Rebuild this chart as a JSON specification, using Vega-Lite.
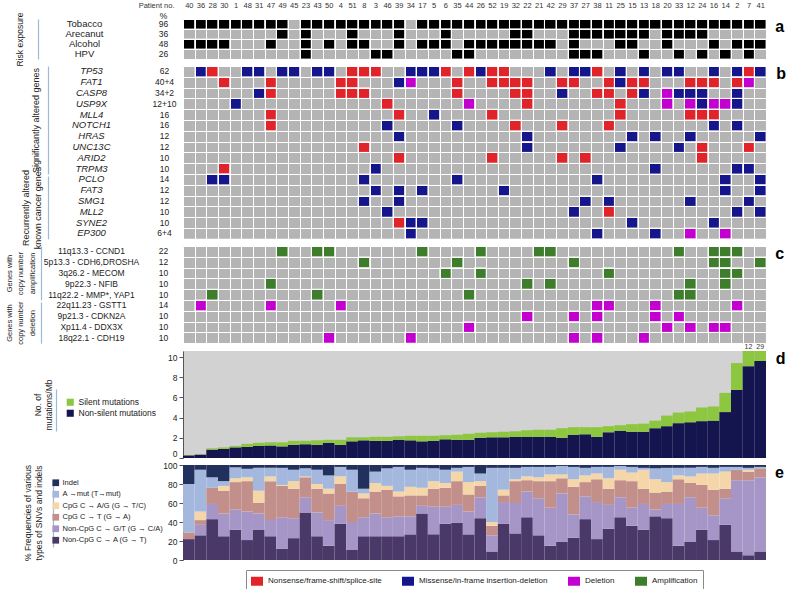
{
 "$schema": "https://vega.github.io/schema/vega-lite/v6.json",
 "background": "white",
 "padding": {"left": 5, "top": 1, "right": 0, "bottom": 0},
 "config": {"font": "Liberation Sans", "view": {"stroke": null}},
 "datasets": {
  "rows": [
   {"panel":"risk","label":"Tobacco","pct":"96"},
   {"panel":"risk","label":"Arecanut","pct":"36"},
   {"panel":"risk","label":"Alcohol","pct":"48"},
   {"panel":"risk","label":"HPV","pct":"26"},
   {"panel":"sig","label":"TP53","pct":"62"},
   {"panel":"sig","label":"FAT1","pct":"40+4"},
   {"panel":"sig","label":"CASP8","pct":"34+2"},
   {"panel":"sig","label":"USP9X","pct":"12+10"},
   {"panel":"sig","label":"MLL4","pct":"16"},
   {"panel":"sig","label":"NOTCH1","pct":"16"},
   {"panel":"sig","label":"HRAS","pct":"12"},
   {"panel":"sig","label":"UNC13C","pct":"12"},
   {"panel":"sig","label":"ARID2","pct":"10"},
   {"panel":"sig","label":"TRPM3","pct":"10"},
   {"panel":"rec","label":"PCLO","pct":"14"},
   {"panel":"rec","label":"FAT3","pct":"12"},
   {"panel":"rec","label":"SMG1","pct":"12"},
   {"panel":"rec","label":"MLL2","pct":"10"},
   {"panel":"rec","label":"SYNE2","pct":"10"},
   {"panel":"rec","label":"EP300","pct":"6+4"},
   {"panel":"amp","label":"11q13.3 - CCND1","pct":"22"},
   {"panel":"amp","label":"5p13.3 - CDH6,DROSHA","pct":"12"},
   {"panel":"amp","label":"3q26.2 - MECOM","pct":"10"},
   {"panel":"amp","label":"9p22.3 - NFIB","pct":"10"},
   {"panel":"amp","label":"11q22.2 - MMP*, YAP1","pct":"10"},
   {"panel":"del","label":"22q11.23 - GSTT1","pct":"14"},
   {"panel":"del","label":"9p21.3 - CDKN2A","pct":"10"},
   {"panel":"del","label":"Xp11.4 - DDX3X","pct":"10"},
   {"panel":"del","label":"18q22.1 - CDH19","pct":"10"}
  ],
  "risk": [
   {"g":"Tobacco","p":"40"},{"g":"Tobacco","p":"36"},{"g":"Tobacco","p":"28"},{"g":"Tobacco","p":"30"},{"g":"Tobacco","p":"1"},{"g":"Tobacco","p":"48"},{"g":"Tobacco","p":"31"},{"g":"Tobacco","p":"47"},{"g":"Tobacco","p":"49"},{"g":"Tobacco","p":"23"},{"g":"Tobacco","p":"43"},{"g":"Tobacco","p":"50"},{"g":"Tobacco","p":"4"},{"g":"Tobacco","p":"51"},{"g":"Tobacco","p":"8"},{"g":"Tobacco","p":"3"},{"g":"Tobacco","p":"46"},{"g":"Tobacco","p":"39"},{"g":"Tobacco","p":"17"},{"g":"Tobacco","p":"5"},{"g":"Tobacco","p":"6"},{"g":"Tobacco","p":"35"},{"g":"Tobacco","p":"44"},{"g":"Tobacco","p":"26"},{"g":"Tobacco","p":"52"},{"g":"Tobacco","p":"19"},{"g":"Tobacco","p":"32"},{"g":"Tobacco","p":"22"},{"g":"Tobacco","p":"21"},{"g":"Tobacco","p":"42"},{"g":"Tobacco","p":"29"},{"g":"Tobacco","p":"37"},{"g":"Tobacco","p":"27"},{"g":"Tobacco","p":"38"},{"g":"Tobacco","p":"11"},{"g":"Tobacco","p":"25"},{"g":"Tobacco","p":"15"},{"g":"Tobacco","p":"13"},{"g":"Tobacco","p":"18"},{"g":"Tobacco","p":"20"},{"g":"Tobacco","p":"33"},{"g":"Tobacco","p":"12"},{"g":"Tobacco","p":"24"},{"g":"Tobacco","p":"16"},{"g":"Tobacco","p":"14"},{"g":"Tobacco","p":"2"},{"g":"Tobacco","p":"7"},{"g":"Tobacco","p":"41"},
   {"g":"Arecanut","p":"49"},{"g":"Arecanut","p":"23"},{"g":"Arecanut","p":"51"},{"g":"Arecanut","p":"39"},{"g":"Arecanut","p":"6"},{"g":"Arecanut","p":"32"},{"g":"Arecanut","p":"22"},{"g":"Arecanut","p":"37"},{"g":"Arecanut","p":"27"},{"g":"Arecanut","p":"38"},{"g":"Arecanut","p":"11"},{"g":"Arecanut","p":"25"},{"g":"Arecanut","p":"15"},{"g":"Arecanut","p":"13"},{"g":"Arecanut","p":"20"},{"g":"Arecanut","p":"33"},{"g":"Arecanut","p":"12"},{"g":"Arecanut","p":"24"},
   {"g":"Alcohol","p":"40"},{"g":"Alcohol","p":"36"},{"g":"Alcohol","p":"28"},{"g":"Alcohol","p":"30"},{"g":"Alcohol","p":"47"},{"g":"Alcohol","p":"23"},{"g":"Alcohol","p":"50"},{"g":"Alcohol","p":"51"},{"g":"Alcohol","p":"8"},{"g":"Alcohol","p":"39"},{"g":"Alcohol","p":"17"},{"g":"Alcohol","p":"5"},{"g":"Alcohol","p":"6"},{"g":"Alcohol","p":"44"},{"g":"Alcohol","p":"26"},{"g":"Alcohol","p":"52"},{"g":"Alcohol","p":"19"},{"g":"Alcohol","p":"32"},{"g":"Alcohol","p":"22"},{"g":"Alcohol","p":"21"},{"g":"Alcohol","p":"42"},{"g":"Alcohol","p":"37"},{"g":"Alcohol","p":"25"},{"g":"Alcohol","p":"15"},{"g":"Alcohol","p":"20"},{"g":"Alcohol","p":"16"},{"g":"Alcohol","p":"2"},{"g":"Alcohol","p":"7"},{"g":"Alcohol","p":"41"},
   {"g":"HPV","p":"23"},{"g":"HPV","p":"3"},{"g":"HPV","p":"46"},{"g":"HPV","p":"35"},{"g":"HPV","p":"44"},{"g":"HPV","p":"37"},{"g":"HPV","p":"27"},{"g":"HPV","p":"38"},{"g":"HPV","p":"13"},{"g":"HPV","p":"33"},{"g":"HPV","p":"24"},{"g":"HPV","p":"14"},{"g":"HPV","p":"7"}
  ],
  "cells": [
   {"g":"TP53","p":"36","t":"Missense"},{"g":"TP53","p":"28","t":"Nonsense"},{"g":"TP53","p":"48","t":"Missense"},{"g":"TP53","p":"31","t":"Missense"},{"g":"TP53","p":"49","t":"Missense"},{"g":"TP53","p":"45","t":"Missense"},{"g":"TP53","p":"43","t":"Missense"},{"g":"TP53","p":"50","t":"Missense"},{"g":"TP53","p":"51","t":"Nonsense"},{"g":"TP53","p":"8","t":"Nonsense"},{"g":"TP53","p":"3","t":"Nonsense"},{"g":"TP53","p":"34","t":"Missense"},{"g":"TP53","p":"17","t":"Missense"},{"g":"TP53","p":"5","t":"Missense"},{"g":"TP53","p":"6","t":"Nonsense"},{"g":"TP53","p":"44","t":"Nonsense"},{"g":"TP53","p":"26","t":"Missense"},{"g":"TP53","p":"52","t":"Nonsense"},{"g":"TP53","p":"19","t":"Nonsense"},{"g":"TP53","p":"42","t":"Missense"},{"g":"TP53","p":"37","t":"Missense"},{"g":"TP53","p":"27","t":"Missense"},{"g":"TP53","p":"38","t":"Nonsense"},{"g":"TP53","p":"25","t":"Missense"},{"g":"TP53","p":"13","t":"Missense"},{"g":"TP53","p":"20","t":"Missense"},{"g":"TP53","p":"33","t":"Missense"},{"g":"TP53","p":"16","t":"Missense"},{"g":"TP53","p":"2","t":"Missense"},{"g":"TP53","p":"7","t":"Nonsense"},{"g":"TP53","p":"41","t":"Missense"},
   {"g":"FAT1","p":"30","t":"Nonsense"},{"g":"FAT1","p":"47","t":"Nonsense"},{"g":"FAT1","p":"4","t":"Nonsense"},{"g":"FAT1","p":"51","t":"Nonsense"},{"g":"FAT1","p":"39","t":"Missense"},{"g":"FAT1","p":"34","t":"Deletion"},{"g":"FAT1","p":"35","t":"Nonsense"},{"g":"FAT1","p":"52","t":"Nonsense"},{"g":"FAT1","p":"19","t":"Nonsense"},{"g":"FAT1","p":"32","t":"Nonsense"},{"g":"FAT1","p":"22","t":"Nonsense"},{"g":"FAT1","p":"29","t":"Nonsense"},{"g":"FAT1","p":"37","t":"Nonsense"},{"g":"FAT1","p":"11","t":"Nonsense"},{"g":"FAT1","p":"25","t":"Missense"},{"g":"FAT1","p":"15","t":"Nonsense"},{"g":"FAT1","p":"13","t":"Nonsense"},{"g":"FAT1","p":"12","t":"Nonsense"},{"g":"FAT1","p":"24","t":"Nonsense"},{"g":"FAT1","p":"16","t":"Nonsense"},{"g":"FAT1","p":"2","t":"Nonsense"},{"g":"FAT1","p":"7","t":"Deletion"},
   {"g":"CASP8","p":"31","t":"Missense"},{"g":"CASP8","p":"47","t":"Nonsense"},{"g":"CASP8","p":"4","t":"Nonsense"},{"g":"CASP8","p":"51","t":"Nonsense"},{"g":"CASP8","p":"8","t":"Nonsense"},{"g":"CASP8","p":"35","t":"Nonsense"},{"g":"CASP8","p":"32","t":"Nonsense"},{"g":"CASP8","p":"22","t":"Nonsense"},{"g":"CASP8","p":"29","t":"Missense"},{"g":"CASP8","p":"38","t":"Nonsense"},{"g":"CASP8","p":"11","t":"Nonsense"},{"g":"CASP8","p":"15","t":"Nonsense"},{"g":"CASP8","p":"13","t":"Missense"},{"g":"CASP8","p":"20","t":"Deletion"},{"g":"CASP8","p":"33","t":"Missense"},{"g":"CASP8","p":"12","t":"Missense"},{"g":"CASP8","p":"24","t":"Missense"},{"g":"CASP8","p":"2","t":"Missense"},
   {"g":"USP9X","p":"1","t":"Missense"},{"g":"USP9X","p":"46","t":"Nonsense"},{"g":"USP9X","p":"44","t":"Deletion"},{"g":"USP9X","p":"22","t":"Nonsense"},{"g":"USP9X","p":"25","t":"Nonsense"},{"g":"USP9X","p":"20","t":"Deletion"},{"g":"USP9X","p":"12","t":"Deletion"},{"g":"USP9X","p":"24","t":"Missense"},{"g":"USP9X","p":"16","t":"Deletion"},{"g":"USP9X","p":"14","t":"Deletion"},{"g":"USP9X","p":"2","t":"Missense"},
   {"g":"MLL4","p":"47","t":"Nonsense"},{"g":"MLL4","p":"39","t":"Nonsense"},{"g":"MLL4","p":"5","t":"Missense"},{"g":"MLL4","p":"52","t":"Nonsense"},{"g":"MLL4","p":"25","t":"Nonsense"},{"g":"MLL4","p":"12","t":"Nonsense"},{"g":"MLL4","p":"24","t":"Nonsense"},{"g":"MLL4","p":"16","t":"Nonsense"},
   {"g":"NOTCH1","p":"47","t":"Nonsense"},{"g":"NOTCH1","p":"46","t":"Missense"},{"g":"NOTCH1","p":"35","t":"Missense"},{"g":"NOTCH1","p":"32","t":"Nonsense"},{"g":"NOTCH1","p":"29","t":"Nonsense"},{"g":"NOTCH1","p":"11","t":"Nonsense"},{"g":"NOTCH1","p":"16","t":"Missense"},{"g":"NOTCH1","p":"2","t":"Missense"},
   {"g":"HRAS","p":"39","t":"Missense"},{"g":"HRAS","p":"22","t":"Missense"},{"g":"HRAS","p":"15","t":"Missense"},{"g":"HRAS","p":"18","t":"Missense"},{"g":"HRAS","p":"12","t":"Missense"},{"g":"HRAS","p":"41","t":"Missense"},
   {"g":"UNC13C","p":"8","t":"Nonsense"},{"g":"UNC13C","p":"22","t":"Missense"},{"g":"UNC13C","p":"25","t":"Missense"},{"g":"UNC13C","p":"33","t":"Missense"},{"g":"UNC13C","p":"24","t":"Nonsense"},{"g":"UNC13C","p":"7","t":"Nonsense"},
   {"g":"ARID2","p":"39","t":"Nonsense"},{"g":"ARID2","p":"52","t":"Nonsense"},{"g":"ARID2","p":"29","t":"Nonsense"},{"g":"ARID2","p":"27","t":"Nonsense"},{"g":"ARID2","p":"24","t":"Nonsense"},
   {"g":"TRPM3","p":"30","t":"Nonsense"},{"g":"TRPM3","p":"3","t":"Missense"},{"g":"TRPM3","p":"18","t":"Missense"},{"g":"TRPM3","p":"2","t":"Missense"},{"g":"TRPM3","p":"7","t":"Missense"},
   {"g":"PCLO","p":"28","t":"Missense"},{"g":"PCLO","p":"30","t":"Missense"},{"g":"PCLO","p":"8","t":"Missense"},{"g":"PCLO","p":"35","t":"Missense"},{"g":"PCLO","p":"38","t":"Missense"},{"g":"PCLO","p":"14","t":"Missense"},{"g":"PCLO","p":"41","t":"Missense"},
   {"g":"FAT3","p":"3","t":"Missense"},{"g":"FAT3","p":"39","t":"Missense"},{"g":"FAT3","p":"17","t":"Missense"},{"g":"FAT3","p":"19","t":"Missense"},{"g":"FAT3","p":"14","t":"Missense"},{"g":"FAT3","p":"41","t":"Missense"},
   {"g":"SMG1","p":"8","t":"Missense"},{"g":"SMG1","p":"39","t":"Missense"},{"g":"SMG1","p":"27","t":"Missense"},{"g":"SMG1","p":"11","t":"Missense"},{"g":"SMG1","p":"12","t":"Missense"},{"g":"SMG1","p":"7","t":"Missense"},
   {"g":"MLL2","p":"46","t":"Missense"},{"g":"MLL2","p":"37","t":"Missense"},{"g":"MLL2","p":"11","t":"Nonsense"},{"g":"MLL2","p":"2","t":"Missense"},{"g":"MLL2","p":"41","t":"Missense"},
   {"g":"SYNE2","p":"39","t":"Nonsense"},{"g":"SYNE2","p":"34","t":"Missense"},{"g":"SYNE2","p":"17","t":"Missense"},{"g":"SYNE2","p":"15","t":"Missense"},{"g":"SYNE2","p":"16","t":"Missense"},
   {"g":"EP300","p":"34","t":"Missense"},{"g":"EP300","p":"38","t":"Missense"},{"g":"EP300","p":"18","t":"Missense"},{"g":"EP300","p":"12","t":"Deletion"},{"g":"EP300","p":"14","t":"Deletion"},
   {"g":"CCND1","p":"49","t":"Amplification"},{"g":"CCND1","p":"43","t":"Amplification"},{"g":"CCND1","p":"50","t":"Amplification"},{"g":"CCND1","p":"17","t":"Amplification"},{"g":"CCND1","p":"26","t":"Amplification"},{"g":"CCND1","p":"21","t":"Amplification"},{"g":"CCND1","p":"42","t":"Amplification"},{"g":"CCND1","p":"33","t":"Amplification"},{"g":"CCND1","p":"16","t":"Amplification"},{"g":"CCND1","p":"14","t":"Amplification"},{"g":"CCND1","p":"2","t":"Amplification"},
   {"g":"CDH6","p":"8","t":"Amplification"},{"g":"CDH6","p":"35","t":"Amplification"},{"g":"CDH6","p":"37","t":"Amplification"},{"g":"CDH6","p":"16","t":"Amplification"},{"g":"CDH6","p":"14","t":"Amplification"},{"g":"CDH6","p":"41","t":"Amplification"},
   {"g":"MECOM","p":"6","t":"Amplification"},{"g":"MECOM","p":"26","t":"Amplification"},{"g":"MECOM","p":"11","t":"Amplification"},{"g":"MECOM","p":"14","t":"Amplification"},{"g":"MECOM","p":"2","t":"Amplification"},
   {"g":"NFIB","p":"47","t":"Amplification"},{"g":"NFIB","p":"22","t":"Amplification"},{"g":"NFIB","p":"42","t":"Amplification"},{"g":"NFIB","p":"12","t":"Amplification"},{"g":"NFIB","p":"14","t":"Amplification"},
   {"g":"MMP","p":"28","t":"Amplification"},{"g":"MMP","p":"43","t":"Amplification"},{"g":"MMP","p":"44","t":"Amplification"},{"g":"MMP","p":"33","t":"Amplification"},{"g":"MMP","p":"12","t":"Amplification"},
   {"g":"GSTT1","p":"36","t":"Deletion"},{"g":"GSTT1","p":"47","t":"Deletion"},{"g":"GSTT1","p":"4","t":"Deletion"},{"g":"GSTT1","p":"38","t":"Deletion"},{"g":"GSTT1","p":"11","t":"Deletion"},{"g":"GSTT1","p":"18","t":"Deletion"},{"g":"GSTT1","p":"2","t":"Deletion"},
   {"g":"CDKN2A","p":"22","t":"Deletion"},{"g":"CDKN2A","p":"37","t":"Deletion"},{"g":"CDKN2A","p":"38","t":"Deletion"},{"g":"CDKN2A","p":"18","t":"Deletion"},{"g":"CDKN2A","p":"33","t":"Deletion"},
   {"g":"DDX3X","p":"44","t":"Deletion"},{"g":"DDX3X","p":"20","t":"Deletion"},{"g":"DDX3X","p":"12","t":"Deletion"},{"g":"DDX3X","p":"16","t":"Deletion"},{"g":"DDX3X","p":"14","t":"Deletion"},
   {"g":"CDH19","p":"50","t":"Deletion"},{"g":"CDH19","p":"34","t":"Deletion"},{"g":"CDH19","p":"37","t":"Deletion"},{"g":"CDH19","p":"38","t":"Deletion"},{"g":"CDH19","p":"13","t":"Deletion"}
  ],
  "tmb": [
   {"p":"40","Nonsilent":0.26,"Silent":0.03},{"p":"36","Nonsilent":0.33,"Silent":0.03},{"p":"28","Nonsilent":0.83,"Silent":0.13},{"p":"30","Nonsilent":0.9,"Silent":0.15},{"p":"1","Nonsilent":1.05,"Silent":0.15},{"p":"48","Nonsilent":1.1,"Silent":0.3},{"p":"31","Nonsilent":1.2,"Silent":0.3},{"p":"47","Nonsilent":1.25,"Silent":0.3},{"p":"49","Nonsilent":1.15,"Silent":0.4},{"p":"45","Nonsilent":1.3,"Silent":0.4},
   {"p":"23","Nonsilent":1.35,"Silent":0.35},{"p":"43","Nonsilent":1.3,"Silent":0.45},{"p":"50","Nonsilent":1.5,"Silent":0.3},{"p":"4","Nonsilent":1.3,"Silent":0.5},{"p":"51","Nonsilent":1.65,"Silent":0.4},{"p":"8","Nonsilent":1.75,"Silent":0.3},{"p":"3","Nonsilent":1.7,"Silent":0.4},{"p":"46","Nonsilent":1.7,"Silent":0.4},{"p":"39","Nonsilent":1.8,"Silent":0.35},{"p":"34","Nonsilent":1.75,"Silent":0.45},
   {"p":"17","Nonsilent":1.65,"Silent":0.55},{"p":"5","Nonsilent":1.7,"Silent":0.5},{"p":"6","Nonsilent":1.85,"Silent":0.4},{"p":"35","Nonsilent":1.8,"Silent":0.5},{"p":"44","Nonsilent":1.8,"Silent":0.6},{"p":"26","Nonsilent":2.0,"Silent":0.5},{"p":"52","Nonsilent":2.05,"Silent":0.5},{"p":"19","Nonsilent":2.05,"Silent":0.55},{"p":"32","Nonsilent":2.1,"Silent":0.55},{"p":"22","Nonsilent":2.1,"Silent":0.65},
   {"p":"21","Nonsilent":2.1,"Silent":0.7},{"p":"42","Nonsilent":2.1,"Silent":0.7},{"p":"29","Nonsilent":2.0,"Silent":0.95},{"p":"37","Nonsilent":2.3,"Silent":0.75},{"p":"27","Nonsilent":2.35,"Silent":0.7},{"p":"38","Nonsilent":2.1,"Silent":0.95},{"p":"11","Nonsilent":2.55,"Silent":0.6},{"p":"25","Nonsilent":2.7,"Silent":0.55},{"p":"15","Nonsilent":2.6,"Silent":0.75},{"p":"13","Nonsilent":2.6,"Silent":0.8},
   {"p":"18","Nonsilent":2.95,"Silent":0.75},{"p":"20","Nonsilent":3.15,"Silent":1.05},{"p":"33","Nonsilent":3.45,"Silent":1.05},{"p":"12","Nonsilent":3.55,"Silent":1.05},{"p":"24","Nonsilent":3.65,"Silent":1.35},{"p":"16","Nonsilent":3.7,"Silent":1.4},{"p":"14","Nonsilent":4.55,"Silent":1.9},{"p":"2","Nonsilent":6.75,"Silent":2.65},{"p":"7","Nonsilent":9.1,"Silent":2.9},{"p":"41","Nonsilent":9.6,"Silent":19.4}
  ],
  "snv": [
   {"p":"40","NonCpGA":22,"NonCpGGT":0,"CpGT":7,"CpGAG":0,"Amut":51,"Indel":20},
   {"p":"36","NonCpGA":26,"NonCpGGT":11,"CpGT":5,"CpGAG":9,"Amut":44,"Indel":5},
   {"p":"28","NonCpGA":43,"NonCpGGT":16,"CpGT":17,"CpGAG":0,"Amut":11,"Indel":13},
   {"p":"30","NonCpGA":25,"NonCpGGT":24,"CpGT":24,"CpGAG":5,"Amut":5,"Indel":17},
   {"p":"1","NonCpGA":32,"NonCpGGT":21,"CpGT":29,"CpGAG":4,"Amut":11.5,"Indel":2.5},
   {"p":"48","NonCpGA":21,"NonCpGGT":30,"CpGT":32,"CpGAG":4,"Amut":9,"Indel":4},
   {"p":"31","NonCpGA":32,"NonCpGGT":17,"CpGT":11,"CpGAG":13,"Amut":24,"Indel":3},
   {"p":"47","NonCpGA":25,"NonCpGGT":17,"CpGT":41,"CpGAG":5,"Amut":9,"Indel":3},
   {"p":"49","NonCpGA":12,"NonCpGGT":33,"CpGT":33,"CpGAG":1,"Amut":18,"Indel":3},
   {"p":"45","NonCpGA":23,"NonCpGGT":21,"CpGT":31,"CpGAG":8,"Amut":12,"Indel":5},
   {"p":"23","NonCpGA":50,"NonCpGGT":16,"CpGT":21,"CpGAG":1,"Amut":8.5,"Indel":3.5},
   {"p":"43","NonCpGA":25,"NonCpGGT":25,"CpGT":25,"CpGAG":5,"Amut":15,"Indel":5},
   {"p":"50","NonCpGA":15,"NonCpGGT":27,"CpGT":28,"CpGAG":5,"Amut":14,"Indel":11},
   {"p":"4","NonCpGA":38,"NonCpGGT":19,"CpGT":23,"CpGAG":8,"Amut":10,"Indel":2},
   {"p":"51","NonCpGA":10.5,"NonCpGGT":29.5,"CpGT":32,"CpGAG":0,"Amut":23,"Indel":5},
   {"p":"8","NonCpGA":25,"NonCpGGT":20,"CpGT":20,"CpGAG":5,"Amut":5,"Indel":25},
   {"p":"3","NonCpGA":25,"NonCpGGT":24,"CpGT":23,"CpGAG":9,"Amut":12,"Indel":7},
   {"p":"46","NonCpGA":25,"NonCpGGT":20,"CpGT":29,"CpGAG":4,"Amut":18.5,"Indel":3.5},
   {"p":"39","NonCpGA":25,"NonCpGGT":21,"CpGT":21,"CpGAG":5,"Amut":26,"Indel":2},
   {"p":"34","NonCpGA":27,"NonCpGGT":19,"CpGT":22,"CpGAG":9,"Amut":18,"Indel":5},
   {"p":"17","NonCpGA":49,"NonCpGGT":8,"CpGT":11,"CpGAG":8,"Amut":21,"Indel":3},
   {"p":"5","NonCpGA":27,"NonCpGGT":29,"CpGT":19,"CpGAG":8,"Amut":13.5,"Indel":3.5},
   {"p":"6","NonCpGA":38,"NonCpGGT":18,"CpGT":20,"CpGAG":5,"Amut":14,"Indel":5},
   {"p":"35","NonCpGA":39,"NonCpGGT":19,"CpGT":25,"CpGAG":10,"Amut":4,"Indel":3},
   {"p":"44","NonCpGA":27,"NonCpGGT":24,"CpGT":18,"CpGAG":13,"Amut":16,"Indel":2},
   {"p":"26","NonCpGA":44,"NonCpGGT":22,"CpGT":12,"CpGAG":5,"Amut":8,"Indel":9},
   {"p":"52","NonCpGA":9,"NonCpGGT":17,"CpGT":10,"CpGAG":4,"Amut":57,"Indel":3},
   {"p":"19","NonCpGA":38,"NonCpGGT":23,"CpGT":7,"CpGAG":6,"Amut":23,"Indel":3},
   {"p":"32","NonCpGA":28,"NonCpGGT":32,"CpGT":23,"CpGAG":2,"Amut":12,"Indel":3},
   {"p":"22","NonCpGA":45,"NonCpGGT":27,"CpGT":12,"CpGAG":4,"Amut":10,"Indel":2},
   {"p":"21","NonCpGA":26,"NonCpGGT":39,"CpGT":18,"CpGAG":4,"Amut":11,"Indel":2},
   {"p":"42","NonCpGA":15,"NonCpGGT":40,"CpGT":28,"CpGAG":7,"Amut":8,"Indel":2},
   {"p":"29","NonCpGA":19,"NonCpGGT":51,"CpGT":16,"CpGAG":4,"Amut":9,"Indel":1},
   {"p":"37","NonCpGA":23.5,"NonCpGGT":24.5,"CpGT":29,"CpGAG":8,"Amut":13,"Indel":2},
   {"p":"27","NonCpGA":43,"NonCpGGT":24,"CpGT":15,"CpGAG":7,"Amut":8,"Indel":3},
   {"p":"38","NonCpGA":22,"NonCpGGT":39,"CpGT":24,"CpGAG":6,"Amut":7,"Indel":2},
   {"p":"11","NonCpGA":33,"NonCpGGT":25,"CpGT":17,"CpGAG":11,"Amut":12,"Indel":2},
   {"p":"25","NonCpGA":45,"NonCpGGT":21,"CpGT":18,"CpGAG":11,"Amut":4,"Indel":1},
   {"p":"15","NonCpGA":36,"NonCpGGT":19,"CpGT":28,"CpGAG":9,"Amut":6,"Indel":2},
   {"p":"13","NonCpGA":32,"NonCpGGT":27,"CpGT":16,"CpGAG":20,"Amut":2,"Indel":3},
   {"p":"18","NonCpGA":46,"NonCpGGT":7,"CpGT":18,"CpGAG":14,"Amut":11.5,"Indel":3.5},
   {"p":"20","NonCpGA":44,"NonCpGGT":15,"CpGT":13,"CpGAG":10,"Amut":15,"Indel":3},
   {"p":"33","NonCpGA":15,"NonCpGGT":44,"CpGT":26,"CpGAG":4,"Amut":8,"Indel":3},
   {"p":"12","NonCpGA":19,"NonCpGGT":47,"CpGT":15,"CpGAG":7,"Amut":9,"Indel":3},
   {"p":"24","NonCpGA":32,"NonCpGGT":23,"CpGT":24,"CpGAG":12,"Amut":7,"Indel":2},
   {"p":"16","NonCpGA":21,"NonCpGGT":26,"CpGT":27,"CpGAG":17,"Amut":6,"Indel":3},
   {"p":"14","NonCpGA":37,"NonCpGGT":28,"CpGT":10,"CpGAG":18,"Amut":5,"Indel":2},
   {"p":"2","NonCpGA":9,"NonCpGGT":75,"CpGT":11,"CpGAG":0,"Amut":3,"Indel":2},
   {"p":"7","NonCpGA":5,"NonCpGGT":79,"CpGT":9,"CpGAG":2,"Amut":2,"Indel":3},
   {"p":"41","NonCpGA":9,"NonCpGGT":78,"CpGT":9.5,"CpGAG":0,"Amut":1.5,"Indel":2}
  ]
 },
 "bounds": "flush",
 "spacing": 7,
 "resolve": {"scale": {"color": "independent"}},
 "vconcat": [
  {
   "width": 583, "height": 40,
   "title": {"text": "a", "orient": "right", "anchor": "start", "frame": "group", "angle": 0, "align": "left", "baseline": "top", "fontSize": 16, "fontWeight": "bold", "offset": 0},
   "view": {"fill": "#b4b4b4", "stroke": null},
   "layer": [
    {"data": {"name": "risk"},
     "mark": {"type": "rect", "fill": "#000000", "stroke": "#ffffff", "strokeWidth": 0.8},
     "encoding": {
      "x": {"field": "p", "type": "nominal", "scale": {"domain": ["40","36","28","30","1","48","31","47","49","45","23","43","50","4","51","8","3","46","39","34","17","5","6","35","44","26","52","19","32","22","21","42","29","37","27","38","11","25","15","13","18","20","33","12","24","16","14","2","7","41"], "paddingInner": 0, "paddingOuter": 0},
            "axis": {"orient": "top", "title": "Patient no.", "labelAngle": 0, "labelFontSize": 7.5, "labelColor": "#333333", "labelPadding": 10, "labelOverlap": false, "ticks": false, "domain": false, "grid": true, "gridColor": "#ffffff", "gridWidth": 1, "gridOpacity": 1, "tickBand": "extent", "titleFontSize": 7.5, "titleFontWeight": "normal", "titleColor": "#333333", "titleX": -9, "titleY": -10, "titleAlign": "right", "titleBaseline": "bottom"}},
      "y": {"field": "g", "type": "nominal", "scale": {"domain": ["Tobacco","Arecanut","Alcohol","HPV"], "paddingInner": 0, "paddingOuter": 0},
            "axis": {"orient": "left", "labels": false, "ticks": false, "domain": false, "grid": true, "gridColor": "#ffffff", "gridWidth": 1, "gridOpacity": 1, "tickBand": "extent", "title": null}}
     }},
    {"data": {"name": "rows"}, "transform": [{"filter": {"field": "panel", "equal": "risk"}}],
     "mark": {"type": "text", "text": ""},
     "encoding": {"y": {"field": "label", "type": "nominal", "sort": null, "scale": {"type": "band", "paddingInner": 0, "paddingOuter": 0},
       "axis": {"orient": "left", "title": null, "ticks": false, "domain": false, "grid": false, "labelAlign": "center", "labelBaseline": "middle", "labelPadding": 99, "labelFontSize": 9.5, "labelColor": "#222222", "labelOverlap": false}}}},
    {"data": {"name": "rows"}, "transform": [{"filter": {"field": "panel", "equal": "risk"}}, {"calculate": "datum.label + '|' + datum.pct", "as": "key"}],
     "mark": {"type": "text", "text": ""},
     "encoding": {"y": {"field": "key", "type": "nominal", "sort": null, "scale": {"type": "band", "paddingInner": 0, "paddingOuter": 0},
       "axis": {"orient": "left", "ticks": false, "domain": false, "grid": false, "labelAlign": "center", "labelBaseline": "middle", "labelPadding": 20, "labelFontSize": 8.5, "labelColor": "#222222", "labelOverlap": false, "labelExpr": "split(datum.value, '|')[1]",
                "title": "%", "titleAngle": 0, "titleX": -20, "titleY": -4, "titleAlign": "center", "titleBaseline": "middle", "titleFontSize": 8.5, "titleFontWeight": "normal", "titleColor": "#222222"}}}},
    {"data": {"name": "rows"}, "transform": [{"filter": {"field": "panel", "equal": "risk"}}],
     "mark": {"type": "text", "text": ""},
     "encoding": {"y": {"field": "label", "type": "nominal", "sort": null, "scale": {"type": "band", "paddingInner": 0, "paddingOuter": 0},
       "axis": {"orient": "left", "labels": false, "ticks": false, "grid": false, "domain": true, "domainColor": "#9dbad8", "domainWidth": 1.2, "offset": 145, "title": "Risk exposure", "titleFontSize": 8.5, "titleFontWeight": "normal", "titleColor": "#222222", "titlePadding": 14}}}}
   ],
   "resolve": {"scale": {"y": "independent"}, "axis": {"y": "independent"}}
  },
  {
   "width": 583, "height": 172.8,
   "title": {"text": "b", "orient": "right", "anchor": "start", "frame": "group", "angle": 0, "align": "left", "baseline": "top", "fontSize": 16, "fontWeight": "bold", "offset": 0},
   "view": {"fill": "#b4b4b4", "stroke": null},
   "layer": [
    {"data": {"name": "cells"}, "transform": [{"filter": {"field": "g", "oneOf": ["TP53","FAT1","CASP8","USP9X","MLL4","NOTCH1","HRAS","UNC13C","ARID2","TRPM3","PCLO","FAT3","SMG1","MLL2","SYNE2","EP300"]}}],
     "mark": {"type": "rect", "stroke": "#ffffff", "strokeWidth": 0.8},
     "encoding": {
      "x": {"field": "p", "type": "nominal", "scale": {"domain": ["40","36","28","30","1","48","31","47","49","45","23","43","50","4","51","8","3","46","39","34","17","5","6","35","44","26","52","19","32","22","21","42","29","37","27","38","11","25","15","13","18","20","33","12","24","16","14","2","7","41"], "paddingInner": 0, "paddingOuter": 0},
            "axis": {"labels": false, "ticks": false, "domain": false, "grid": true, "gridColor": "#ffffff", "gridWidth": 1, "gridOpacity": 1, "tickBand": "extent", "title": null}},
      "y": {"field": "g", "type": "nominal", "scale": {"domain": ["TP53","FAT1","CASP8","USP9X","MLL4","NOTCH1","HRAS","UNC13C","ARID2","TRPM3","PCLO","FAT3","SMG1","MLL2","SYNE2","EP300"], "paddingInner": 0, "paddingOuter": 0},
            "axis": {"orient": "left", "labels": false, "ticks": false, "domain": false, "grid": true, "gridColor": "#ffffff", "gridWidth": 1, "gridOpacity": 1, "tickBand": "extent", "title": null}},
      "color": {"field": "t", "type": "nominal", "scale": {"domain": ["Nonsense","Missense","Deletion","Amplification"], "range": ["#e0242a","#15158c","#c400d0","#3e7d2c"]}, "legend": null}
     }},
    {"data": {"name": "rows"}, "transform": [{"filter": {"field": "panel", "oneOf": ["sig", "rec"]}}],
     "mark": {"type": "text", "text": ""},
     "encoding": {"y": {"field": "label", "type": "nominal", "sort": null, "scale": {"type": "band", "paddingInner": 0, "paddingOuter": 0},
       "axis": {"orient": "left", "title": null, "ticks": false, "domain": false, "grid": false, "labelAlign": "center", "labelBaseline": "middle", "labelPadding": 92, "labelFontSize": 9.5, "labelFontStyle": "italic", "labelColor": "#222222", "labelOverlap": false}}}},
    {"data": {"name": "rows"}, "transform": [{"filter": {"field": "panel", "oneOf": ["sig", "rec"]}}, {"calculate": "datum.label + '|' + datum.pct", "as": "key"}],
     "mark": {"type": "text", "text": ""},
     "encoding": {"y": {"field": "key", "type": "nominal", "sort": null, "scale": {"type": "band", "paddingInner": 0, "paddingOuter": 0},
       "axis": {"orient": "left", "title": null, "ticks": false, "domain": false, "grid": false, "labelAlign": "center", "labelBaseline": "middle", "labelPadding": 19, "labelFontSize": 8.5, "labelColor": "#222222", "labelOverlap": false, "labelExpr": "split(datum.value, '|')[1]"}}}},
    {"data": {"name": "rows"}, "transform": [{"filter": {"field": "panel", "equal": "sig"}}],
     "mark": {"type": "text", "text": ""},
     "encoding": {"y": {"field": "label", "type": "nominal", "sort": null, "scale": {"type": "band", "paddingInner": 0, "paddingOuter": 0, "range": [0, 108]},
       "axis": {"orient": "left", "labels": false, "ticks": false, "grid": false, "domain": true, "domainColor": "#9dbad8", "domainWidth": 1.2, "offset": 135, "title": "Significantly altered genes", "titleFontSize": 9, "titleFontWeight": "normal", "titleColor": "#222222", "titlePadding": 8}}}},
    {"data": {"name": "rows"}, "transform": [{"filter": {"field": "panel", "equal": "rec"}}],
     "mark": {"type": "text", "text": ""},
     "encoding": {"y": {"field": "label", "type": "nominal", "sort": null, "scale": {"type": "band", "paddingInner": 0, "paddingOuter": 0, "range": [110, 172.8]},
       "axis": {"orient": "left", "labels": false, "ticks": false, "grid": false, "domain": true, "domainColor": "#9dbad8", "domainWidth": 1.2, "offset": 135, "title": ["Recurrently altered", "known cancer genes"], "titleFontSize": 9, "titleFontWeight": "normal", "titleColor": "#222222", "titlePadding": 6, "titleLineHeight": 12}}}}
   ],
   "resolve": {"scale": {"y": "independent"}, "axis": {"y": "independent"}}
  },
  {
   "width": 583, "height": 97.2,
   "title": {"text": "c", "orient": "right", "anchor": "start", "frame": "group", "angle": 0, "align": "left", "baseline": "top", "fontSize": 16, "fontWeight": "bold", "offset": 0},
   "view": {"fill": "#b4b4b4", "stroke": null},
   "layer": [
    {"data": {"name": "cells"}, "transform": [{"filter": {"field": "g", "oneOf": ["CCND1","CDH6","MECOM","NFIB","MMP","GSTT1","CDKN2A","DDX3X","CDH19"]}}],
     "mark": {"type": "rect", "stroke": "#ffffff", "strokeWidth": 0.8},
     "encoding": {
      "x": {"field": "p", "type": "nominal", "scale": {"domain": ["40","36","28","30","1","48","31","47","49","45","23","43","50","4","51","8","3","46","39","34","17","5","6","35","44","26","52","19","32","22","21","42","29","37","27","38","11","25","15","13","18","20","33","12","24","16","14","2","7","41"], "paddingInner": 0, "paddingOuter": 0},
            "axis": {"labels": false, "ticks": false, "domain": false, "grid": true, "gridColor": "#ffffff", "gridWidth": 1, "gridOpacity": 1, "tickBand": "extent", "title": null}},
      "y": {"field": "g", "type": "nominal", "scale": {"domain": ["CCND1","CDH6","MECOM","NFIB","MMP","GSTT1","CDKN2A","DDX3X","CDH19"], "paddingInner": 0, "paddingOuter": 0},
            "axis": {"orient": "left", "labels": false, "ticks": false, "domain": false, "grid": true, "gridColor": "#ffffff", "gridWidth": 1, "gridOpacity": 1, "tickBand": "extent", "title": null}},
      "color": {"field": "t", "type": "nominal", "scale": {"domain": ["Nonsense","Missense","Deletion","Amplification"], "range": ["#e0242a","#15158c","#c400d0","#3e7d2c"]}, "legend": null}
     }},
    {"data": {"name": "rows"}, "transform": [{"filter": {"field": "panel", "oneOf": ["amp", "del"]}}],
     "mark": {"type": "text", "text": ""},
     "encoding": {"y": {"field": "label", "type": "nominal", "sort": null, "scale": {"type": "band", "paddingInner": 0, "paddingOuter": 0},
       "axis": {"orient": "left", "title": null, "ticks": false, "domain": false, "grid": false, "labelAlign": "center", "labelBaseline": "middle", "labelPadding": 92, "labelFontSize": 8.5, "labelColor": "#222222", "labelOverlap": false}}}},
    {"data": {"name": "rows"}, "transform": [{"filter": {"field": "panel", "oneOf": ["amp", "del"]}}, {"calculate": "datum.label + '|' + datum.pct", "as": "key"}],
     "mark": {"type": "text", "text": ""},
     "encoding": {"y": {"field": "key", "type": "nominal", "sort": null, "scale": {"type": "band", "paddingInner": 0, "paddingOuter": 0},
       "axis": {"orient": "left", "title": null, "ticks": false, "domain": false, "grid": false, "labelAlign": "center", "labelBaseline": "middle", "labelPadding": 20, "labelFontSize": 8.5, "labelColor": "#222222", "labelOverlap": false, "labelExpr": "split(datum.value, '|')[1]"}}}},
    {"data": {"name": "rows"}, "transform": [{"filter": {"field": "panel", "equal": "amp"}}],
     "mark": {"type": "text", "text": ""},
     "encoding": {"y": {"field": "label", "type": "nominal", "sort": null, "scale": {"type": "band", "paddingInner": 0, "paddingOuter": 0, "range": [0, 54]},
       "axis": {"orient": "left", "labels": false, "ticks": false, "grid": false, "domain": true, "domainColor": "#9dbad8", "domainWidth": 1.2, "offset": 142, "title": ["Genes with", "copy number", "amplification"], "titleFontSize": 7.5, "titleFontWeight": "normal", "titleColor": "#222222", "titlePadding": 5, "titleLineHeight": 11.5}}}},
    {"data": {"name": "rows"}, "transform": [{"filter": {"field": "panel", "equal": "del"}}],
     "mark": {"type": "text", "text": ""},
     "encoding": {"y": {"field": "label", "type": "nominal", "sort": null, "scale": {"type": "band", "paddingInner": 0, "paddingOuter": 0, "range": [56, 97.2]},
       "axis": {"orient": "left", "labels": false, "ticks": false, "grid": false, "domain": true, "domainColor": "#9dbad8", "domainWidth": 1.2, "offset": 142, "title": ["Genes with", "copy number", "deletion"], "titleFontSize": 7.5, "titleFontWeight": "normal", "titleColor": "#222222", "titlePadding": 5, "titleLineHeight": 11.5}}}}
   ],
   "resolve": {"scale": {"y": "independent"}, "axis": {"y": "independent"}}
  },
  {
   "width": 583, "height": 107,
   "title": {"text": "d", "orient": "right", "anchor": "start", "frame": "group", "angle": 0, "align": "left", "baseline": "top", "fontSize": 16, "fontWeight": "bold", "offset": 0},
   "view": {"fill": "#d2d2d2", "stroke": null},
   "layer": [
    {"data": {"name": "tmb"},
     "transform": [{"fold": ["Nonsilent", "Silent"], "as": ["mt", "v"]}, {"calculate": "datum.mt == 'Silent' ? 1 : 0", "as": "k"}],
     "mark": {"type": "bar", "clip": true},
     "encoding": {
      "x": {"field": "p", "type": "nominal", "scale": {"domain": ["40","36","28","30","1","48","31","47","49","45","23","43","50","4","51","8","3","46","39","34","17","5","6","35","44","26","52","19","32","22","21","42","29","37","27","38","11","25","15","13","18","20","33","12","24","16","14","2","7","41"], "paddingInner": 0, "paddingOuter": 0}, "axis": null},
      "y": {"field": "v", "type": "quantitative", "stack": "zero", "scale": {"domain": [0, 10.6], "nice": false},
            "axis": {"orient": "left", "values": [0,2,4,6,8,10], "labelOverlap": false, "labelFlush": true, "tickSize": 4, "labelFontSize": 8.5, "labelPadding": 2, "labelColor": "#222222", "domainColor": "#555555", "tickColor": "#555555", "grid": false, "title": ["No. of", "mutations/Mb"], "titleFontSize": 8.5, "titleFontWeight": "normal", "titleColor": "#222222", "titlePadding": 114, "titleLineHeight": 11}},
      "color": {"field": "mt", "type": "nominal", "scale": {"domain": ["Silent", "Nonsilent"], "range": ["#8dc63f", "#14154e"]},
                "legend": {"orient": "none", "legendX": -117, "legendY": 47, "title": null, "labelExpr": "datum.label == 'Silent' ? 'Silent mutations' : 'Non-silent mutations'", "symbolType": "square", "symbolSize": 50, "symbolStrokeWidth": 0, "labelFontSize": 8.5, "labelColor": "#222222", "rowPadding": 2}},
      "order": {"field": "k", "type": "quantitative"}
     }},
    {"data": {"name": "tmb"},
     "transform": [{"calculate": "datum.Nonsilent + datum.Silent", "as": "total"}, {"filter": "datum.total > 10.6"}],
     "mark": {"type": "text", "fontSize": 7, "baseline": "bottom", "dy": -1, "color": "#333333"},
     "encoding": {"x": {"field": "p", "type": "nominal"}, "y": {"datum": 10.6, "scale": {"domain": [0, 10.6], "nice": false}, "axis": null}, "text": {"field": "total", "type": "quantitative", "format": ".0f"}}},
    {"data": {"name": "tmb"},
     "mark": {"type": "text", "text": ""},
     "encoding": {"y": {"field": "p", "type": "nominal", "sort": null, "scale": {"type": "band", "paddingInner": 0, "paddingOuter": 0, "range": [38, 80]},
       "axis": {"orient": "left", "labels": false, "ticks": false, "grid": false, "domain": true, "domainColor": "#9dbad8", "domainWidth": 1.2, "offset": 127, "title": null}}}}
   ],
   "resolve": {"scale": {"y": "independent"}, "axis": {"y": "independent"}}
  },
  {
   "width": 583, "height": 95,
   "title": {"text": "e", "orient": "right", "anchor": "start", "frame": "group", "angle": 0, "align": "left", "baseline": "top", "fontSize": 16, "fontWeight": "bold", "offset": 0},
   "layer": [
    {"data": {"name": "snv"},
     "transform": [{"fold": ["NonCpGA","NonCpGGT","CpGT","CpGAG","Amut","Indel"], "as": ["c", "v"]}, {"calculate": "indexof(['NonCpGA','NonCpGGT','CpGT','CpGAG','Amut','Indel'], datum.c)", "as": "k"}],
     "mark": {"type": "bar"},
     "encoding": {
      "x": {"field": "p", "type": "nominal", "scale": {"domain": ["40","36","28","30","1","48","31","47","49","45","23","43","50","4","51","8","3","46","39","34","17","5","6","35","44","26","52","19","32","22","21","42","29","37","27","38","11","25","15","13","18","20","33","12","24","16","14","2","7","41"], "paddingInner": 0, "paddingOuter": 0}, "axis": null},
      "y": {"field": "v", "type": "quantitative", "stack": "zero", "scale": {"domain": [0, 100], "nice": false},
            "axis": {"orient": "left", "values": [0,20,40,60,80,100], "labelOverlap": false, "labelFlush": false, "tickSize": 4, "labelFontSize": 8.5, "labelPadding": 2, "labelColor": "#222222", "domainColor": "#555555", "tickColor": "#555555", "grid": false, "title": ["% Frequencies of various", "types of SNVs and indels"], "titleFontSize": 8.5, "titleFontWeight": "normal", "titleColor": "#222222", "titlePadding": 119, "titleLineHeight": 11}},
      "color": {"field": "c", "type": "nominal", "scale": {"domain": ["Indel","Amut","CpGAG","CpGT","NonCpGGT","NonCpGA"], "range": ["#22305e","#a4b7dd","#f4d6a8","#c38f8a","#a596c7","#4a3868"]},
                "legend": {"orient": "none", "legendX": -131, "legendY": 14, "title": null, "symbolType": "square", "symbolSize": 45, "symbolStrokeWidth": 0, "labelFontSize": 7.5, "labelColor": "#222222", "rowPadding": 2.5, "labelOffset": 3, "labelLimit": 200,
                           "labelExpr": "datum.label == 'Amut' ? 'A →mut (T→mut)' : datum.label == 'CpGAG' ? 'CpG C → A/G (G → T/C)' : datum.label == 'CpGT' ? 'CpG C → T (G → A)' : datum.label == 'NonCpGGT' ? 'Non-CpG C → G/T (G → C/A)' : datum.label == 'NonCpGA' ? 'Non-CpG C → A (G → T)' : datum.label"}},
      "order": {"field": "k", "type": "quantitative"}
     }},
    {"data": {"name": "cells"},
     "mark": {"type": "square", "opacity": 0},
     "encoding": {
      "color": {"field": "t", "type": "nominal", "scale": {"domain": ["Nonsense","Missense","Deletion","Amplification"], "range": ["#e0242a","#15158c","#c400d0","#3e7d2c"]},
                "legend": {"orient": "none", "direction": "horizontal", "legendX": 63, "legendY": 105, "title": null, "symbolType": "M-1,-0.75H1V0.75H-1Z", "symbolSize": 144, "symbolStrokeWidth": 0, "symbolOpacity": 1, "labelFontSize": 8, "labelOffset": 5, "labelColor": "#222222", "columnPadding": 20, "strokeColor": "#8a8a8a", "padding": 5, "labelLimit": 250,
                           "labelExpr": "datum.label == 'Nonsense' ? 'Nonsense/frame-shift/splice-site' : datum.label == 'Missense' ? 'Missense/in-frame insertion-deletion' : datum.label"}}
     }},
    {"data": {"name": "snv"},
     "mark": {"type": "text", "text": ""},
     "encoding": {"y": {"field": "p", "type": "nominal", "sort": null, "scale": {"type": "band", "paddingInner": 0, "paddingOuter": 0, "range": [16, 82]},
       "axis": {"orient": "left", "labels": false, "ticks": false, "grid": false, "domain": true, "domainColor": "#9dbad8", "domainWidth": 1.2, "offset": 130, "title": null}}}}
   ],
   "resolve": {"scale": {"color": "independent", "y": "independent"}, "axis": {"y": "independent"}}
  }
 ]
}
